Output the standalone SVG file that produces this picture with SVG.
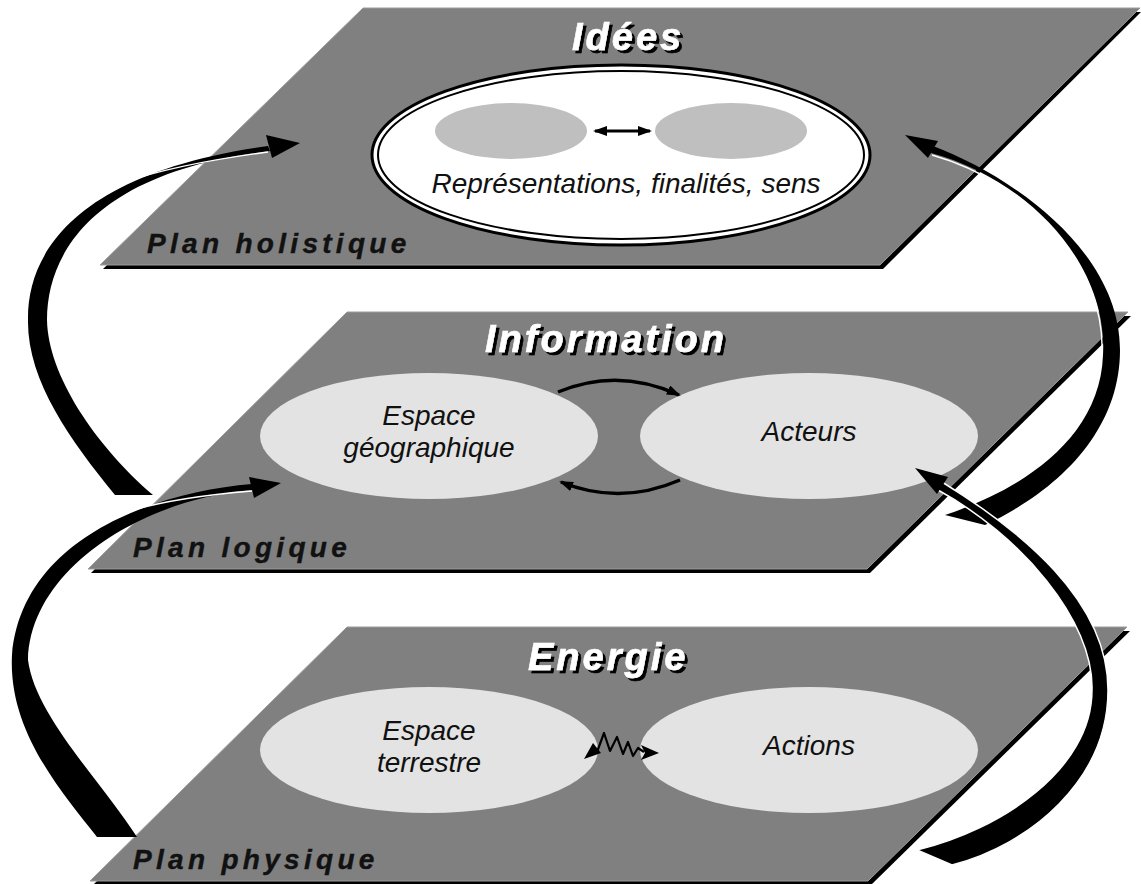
<svg xmlns="http://www.w3.org/2000/svg" width="1141" height="884" viewBox="0 0 1141 884">
<style>
.plane{fill:#808080;stroke:#9c9c9c;stroke-width:1}
.shadow{fill:#000}
.ell{fill:#e3e3e3}
.gell{fill:#bfbfbf}
.lbl{font-family:"Liberation Sans",Arial,sans-serif;font-style:italic;font-size:28px;fill:#111;text-anchor:middle}
.title{font-family:"Liberation Sans",Arial,sans-serif;font-style:italic;font-weight:bold;font-size:38px;letter-spacing:3px;fill:#fff;stroke:#fff;stroke-width:0.6;filter:url(#ds)}
.plan{font-family:"Liberation Sans",Arial,sans-serif;font-style:italic;font-weight:bold;font-size:28px;letter-spacing:4.3px;fill:#111;stroke:#111;stroke-width:0.4}
.big{fill:#000}
.hl{fill:none;stroke:#fff;stroke-width:1.4}
.thin{fill:none;stroke:#000;stroke-width:3.5}
</style>
<defs>
<marker id="ah" viewBox="0 0 14 10" refX="12" refY="5" markerWidth="14" markerHeight="10" markerUnits="userSpaceOnUse" orient="auto-start-reverse">
<path d="M0,0 L14,5 L0,10 Z" fill="#000"/>
</marker>
<filter id="ds" x="-10%" y="-20%" width="130%" height="150%">
<feDropShadow dx="3" dy="3" stdDeviation="0.6" flood-color="#000" flood-opacity="1"/>
</filter>
</defs>

<g id="plan-holistique">
<polygon class="shadow" points="103,269 366,12 1141,12 883,269"/>
<polygon class="plane" points="100,265 363,8 1140,8 880,265"/>
<ellipse cx="621" cy="155" rx="249" ry="90" fill="#fff" stroke="#000" stroke-width="3"/>
<ellipse cx="621" cy="155" rx="243" ry="84" fill="#fff" stroke="#000" stroke-width="2"/>
<ellipse class="gell" cx="511" cy="131" rx="76" ry="28"/>
<ellipse class="gell" cx="731" cy="131" rx="76" ry="28"/>
<text class="lbl" x="626" y="193">Représentations, finalités, sens</text>
<text class="title" x="572" y="50">Idées</text>
<text class="plan" x="147" y="253">Plan holistique</text>
</g>

<g id="plan-logique">
<polygon class="shadow" points="91,573 350,316 1131,316 870,573"/>
<polygon class="plane" points="88,569 347,312 1128,312 867,569"/>
<ellipse class="ell" cx="429" cy="436" rx="169" ry="63"/>
<ellipse class="ell" cx="809" cy="436" rx="169" ry="63"/>
<text class="lbl" x="429" y="425">Espace</text>
<text class="lbl" x="429" y="457">géographique</text>
<text class="lbl" x="809" y="441">Acteurs</text>
<text class="title" x="485" y="352">Information</text>
<text class="plan" x="133" y="557">Plan logique</text>
</g>

<g id="plan-physique">
<polygon class="shadow" points="93,885 350,631 1130,631 871,885"/>
<polygon class="plane" points="90,881 347,627 1127,627 868,881"/>
<ellipse class="ell" cx="429" cy="750" rx="169" ry="63"/>
<ellipse class="ell" cx="809" cy="750" rx="169" ry="63"/>
<text class="lbl" x="429" y="740">Espace</text>
<text class="lbl" x="429" y="772">terrestre</text>
<text class="lbl" x="809" y="755">Actions</text>
<text class="title" x="528" y="670">Energie</text>
<text class="plan" x="133" y="869">Plan physique</text>
</g>

<g id="connectors">
<line x1="595" y1="131" x2="650" y2="131" stroke="#000" stroke-width="3" marker-start="url(#ah)" marker-end="url(#ah)"/>
<path class="thin" d="M558,392 Q618,367 679,395" marker-end="url(#ah)"/>
<path class="thin" d="M680,480 Q620,506 561,482" marker-end="url(#ah)"/>
<path d="M597,752 L604,733 L610,751 L617,737 L623,754 L628,742 L633,756 L638,748 L644,752" fill="none" stroke="#000" stroke-width="2.2" stroke-linejoin="round"/>
<polygon points="584,759 593,743 601,753" fill="#000"/>
<polygon points="659,753 641,745 645,753 641,760" fill="#000"/>

<!-- A: left top swirl -->
<path class="big" d="M115,495 C70,440 27,380 28,320 C27,250 80,172 268,146 L270,151 C95,172 47,252 47,320 C48,375 95,445 153,495 Z"/>
<path class="hl" d="M268,152 C200,161 160,170 125,182"/>
<polygon points="300,143 266,135 272,158" fill="#000"/>

<!-- B: right top swirl -->
<path class="big" d="M933,146 C1010,175 1120,250 1120,350 C1120,430 1060,490 985,525 L945,515 C1020,490 1100,440 1103,355 C1108,265 1030,180 931,153 Z"/>
<path class="hl" d="M932,155 C1030,183 1106,265 1102,355"/>
<polygon points="905,135 938,141 928,158" fill="#000"/>

<!-- C: left bottom swirl -->
<path class="big" d="M252,484 C155,492 22,538 12,655 C8,730 60,790 97,837 L137,837 C100,780 35,715 28,660 C30,568 145,498 253,490 Z"/>
<path class="hl" d="M252,491 C190,496 150,504 120,514"/>
<polygon points="281,483 249,477 254,498" fill="#000"/>

<!-- D: right bottom swirl -->
<path d="M942,482 C1020,530 1108,600 1108,690 C1108,780 1030,845 952,865 L917,850 C1000,830 1092,770 1092,690 C1094,620 1020,535 938,490 Z" fill="#000" stroke="#fff" stroke-width="1.5"/>
<polygon points="915,468 948,477 937,494" fill="#000"/>
</g>
</svg>
